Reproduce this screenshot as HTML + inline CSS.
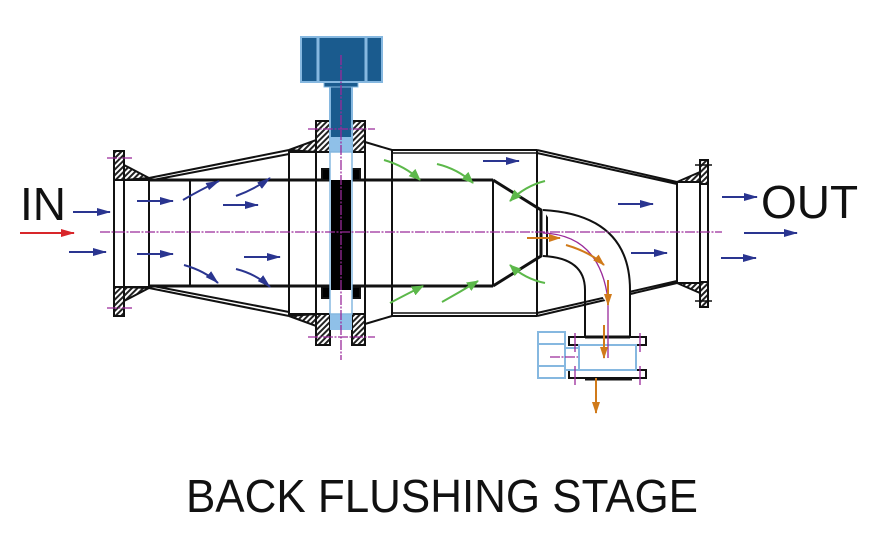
<!DOCTYPE html>
<html><head><meta charset="utf-8"><style>
html,body{margin:0;padding:0;background:#fff}
svg{display:block}
text{font-family:"Liberation Sans",sans-serif;fill:#111}
</style></head><body>
<svg width="873" height="549" viewBox="0 0 873 549" xmlns="http://www.w3.org/2000/svg">
<defs>
<pattern id="h" width="4" height="4" patternUnits="userSpaceOnUse" patternTransform="rotate(45)">
<rect width="4" height="4" fill="#fff"/><rect width="2" height="4" fill="#222"/></pattern>
<marker id="ab" markerWidth="14" markerHeight="10" refX="13" refY="5" orient="auto" markerUnits="userSpaceOnUse"><path d="M0,1 L14,5 L0,9 Z" fill="#2a3590"/></marker>
<marker id="ar" markerWidth="14" markerHeight="10" refX="13" refY="5" orient="auto" markerUnits="userSpaceOnUse"><path d="M0,1 L14,5 L0,9 Z" fill="#d8262a"/></marker>
<marker id="ag" markerWidth="12" markerHeight="10" refX="11" refY="5" orient="auto" markerUnits="userSpaceOnUse"><path d="M0,0 L12,5 L0,10 Z" fill="#5cb84a"/></marker>
<marker id="ao" markerWidth="12" markerHeight="10" refX="11" refY="5" orient="auto" markerUnits="userSpaceOnUse"><path d="M0,1 L12,5 L0,9 Z" fill="#d07a1a"/></marker>
</defs>
<g stroke="#111" stroke-width="2" fill="none">
<rect x="114" y="151" width="10" height="165" fill="url(#h)"/>
<rect x="114" y="180" width="10" height="107" fill="#fff"/>
<path d="M124,165 L149,178 L124,180Z M124,301 L149,288 L124,287Z" fill="url(#h)"/>
<line x1="114" y1="180" x2="149" y2="180"/><line x1="114" y1="287" x2="149" y2="287"/>
<line x1="149" y1="178" x2="149" y2="288"/>
<path d="M149,178 L289,150 M153,180 L289,154 M149,288 L289,316 M153,286 L289,312"/>
<path d="M149,180 L493,180 M149,286 L493,286" stroke-width="3"/>
<line x1="190" y1="180" x2="190" y2="286"/>
<line x1="289" y1="150" x2="289" y2="316"/>
<rect x="316" y="121" width="14" height="31" fill="url(#h)"/>
<rect x="352" y="121" width="13" height="31" fill="url(#h)"/>
<rect x="316" y="314" width="14" height="31" fill="url(#h)"/>
<rect x="352" y="314" width="13" height="31" fill="url(#h)"/>
<path d="M289,150 L316,140 L316,152Z M289,316 L316,326 L316,314Z" fill="url(#h)"/>
<line x1="289" y1="152" x2="316" y2="152"/><line x1="289" y1="314" x2="316" y2="314"/>
<line x1="316" y1="152" x2="316" y2="314"/><line x1="365" y1="152" x2="365" y2="314"/>
<path d="M365,142 L392,150 M365,324 L392,316"/>
<rect x="322" y="169" width="8" height="11" fill="#000"/><rect x="352" y="169" width="8" height="11" fill="#000"/>
<rect x="322" y="287" width="8" height="11" fill="#000"/><rect x="352" y="287" width="8" height="11" fill="#000"/>
<path d="M392,150 L537,150 M392,316 L537,316"/>
<path d="M392,153 L537,153 M392,313 L537,313" stroke-width="1.5"/>
<line x1="392" y1="150" x2="392" y2="316"/>
<line x1="537" y1="150" x2="537" y2="316"/>
<path d="M537,150 L677,182 M537,153 L677,184 M537,316 L677,283 M537,313 L677,281"/>
<line x1="493" y1="180" x2="493" y2="286"/>
<path d="M493,180 L541,210 L541,256 L493,286" stroke-width="3"/>
<line x1="547" y1="210" x2="547" y2="256"/>
<line x1="677" y1="182" x2="677" y2="283"/>
<path d="M677,182 L700,172 L700,182Z M677,283 L700,293 L700,283Z" fill="url(#h)"/>
<line x1="677" y1="182" x2="700" y2="182"/><line x1="677" y1="283" x2="700" y2="283"/>
<rect x="700" y="160" width="8" height="147" fill="url(#h)"/>
<rect x="700" y="184" width="8" height="98" fill="#fff"/>
<path d="M695,165 L712,165 M695,301 L712,301" stroke-width="1.5"/>
<path d="M543,210 Q630,215 630,290 L630,337" fill="#fff"/>
<path d="M543,256 Q585,258 585,290 L585,337"/>
<rect x="569" y="337" width="77" height="8" fill="#fff"/>
<rect x="569" y="370" width="77" height="8" fill="#fff"/>
<line x1="585" y1="337" x2="630" y2="337" stroke-width="3"/>
<line x1="585" y1="379" x2="632" y2="379" stroke-width="3"/>
</g>
<g stroke="#86b8e0" stroke-width="2" fill="#fff">
<rect x="579" y="345" width="57" height="25"/>
<rect x="538" y="332" width="27" height="46"/>
<line x1="538" y1="344" x2="565" y2="344"/><line x1="538" y1="366" x2="565" y2="366"/>
<rect x="565" y="348" width="14" height="22"/>
</g>
<rect x="330" y="86" width="22" height="66" fill="#1a5b8e" stroke="#86b8e0" stroke-width="2"/>
<rect x="330" y="137" width="22" height="14" fill="#8fc0e8"/>
<rect x="330" y="314" width="22" height="16" fill="#8fc0e8"/>
<rect x="330" y="152" width="22" height="162" fill="#fff" stroke="#86b8e0" stroke-width="1.5"/>
<rect x="331" y="180" width="20" height="110" fill="#000"/>
<rect x="324" y="82" width="34" height="5" fill="#1a5b8e" stroke="#86b8e0"/>
<rect x="301" y="37" width="81" height="45" fill="#1a5b8e" stroke="#86b8e0" stroke-width="2"/>
<path d="M318,38 V81 M366,38 V81" stroke="#86b8e0" stroke-width="3"/>
<g stroke="#9a2a9a" stroke-width="1.3" stroke-dasharray="10,1.5,2,1.5" fill="none">
<line x1="100" y1="232" x2="722" y2="232"/>
<line x1="341" y1="55" x2="341" y2="360"/>
<line x1="107" y1="158" x2="132" y2="158"/><line x1="107" y1="308" x2="132" y2="308"/>
<line x1="308" y1="129" x2="375" y2="129"/><line x1="308" y1="337" x2="375" y2="337"/>
<line x1="550" y1="357" x2="578" y2="357"/>
<path d="M575,333 V352 M575,366 V385 M640,333 V352 M640,366 V385" stroke-dasharray="none"/>
<path d="M543,233 Q600,235 608,300 L608,358" stroke-dasharray="none" fill="none"/>
</g>
<g stroke="#2a3590" stroke-width="2" fill="none" marker-end="url(#ab)">
<line x1="73" y1="212" x2="110" y2="212"/><line x1="69" y1="252" x2="106" y2="252"/>
<line x1="137" y1="201" x2="173" y2="201"/><line x1="137" y1="254" x2="173" y2="254"/>
<line x1="223" y1="205" x2="258" y2="205"/><line x1="244" y1="257" x2="280" y2="257"/>
<path d="M183,200 Q200,190 219,181"/><path d="M236,196 Q255,189 270,178"/>
<path d="M184,265 Q205,271 218,283"/><path d="M236,269 Q256,274 270,287"/>
<line x1="483" y1="161" x2="519" y2="161"/>
<line x1="618" y1="204" x2="653" y2="204"/><line x1="631" y1="253" x2="667" y2="253"/>
<line x1="722" y1="197" x2="757" y2="197"/><line x1="744" y1="233" x2="797" y2="233"/><line x1="721" y1="258" x2="756" y2="258"/>
</g>
<line x1="20" y1="233" x2="74" y2="233" stroke="#d8262a" stroke-width="2" marker-end="url(#ar)"/>
<g stroke="#5cb84a" stroke-width="2" fill="none" marker-end="url(#ag)">
<path d="M384,160 Q405,166 420,180"/><path d="M437,164 Q458,169 473,183"/>
<path d="M545,181 Q525,186 510,201"/><path d="M545,283 Q525,279 510,265"/>
<path d="M390,303 Q405,295 423,286"/><path d="M442,302 Q460,292 478,281"/>
</g>
<g stroke="#d07a1a" stroke-width="2" fill="none" marker-end="url(#ao)">
<line x1="527" y1="238" x2="560" y2="238"/>
<path d="M566,245 Q590,252 604,265"/>
<line x1="608" y1="280" x2="608" y2="305"/>
<line x1="604" y1="325" x2="604" y2="358"/>
<line x1="596" y1="378" x2="596" y2="413"/>
</g>
<text x="20" y="220" font-size="46">IN</text>
<text x="761" y="218" font-size="46">OUT</text>
<text x="186" y="512" font-size="46" textLength="512" lengthAdjust="spacingAndGlyphs">BACK FLUSHING STAGE</text>
</svg>
</body></html>
